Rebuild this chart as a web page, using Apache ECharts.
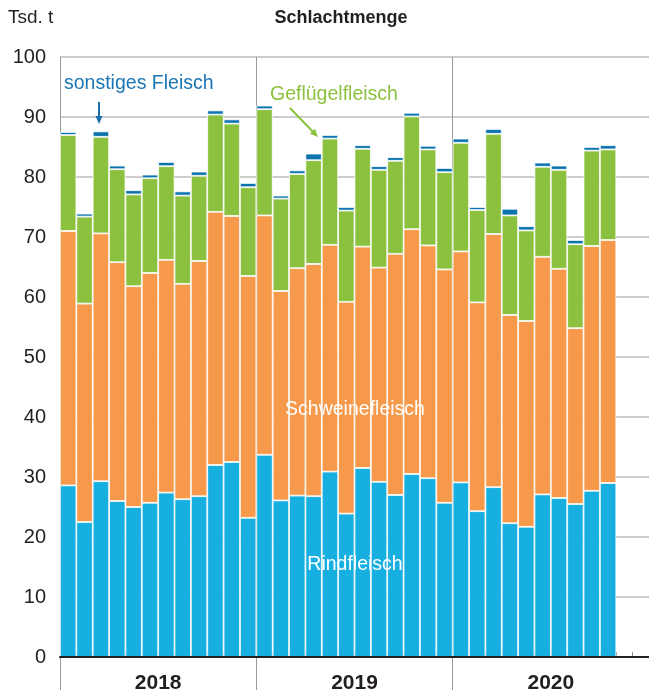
<!DOCTYPE html>
<html>
<head>
<meta charset="utf-8">
<title>Schlachtmenge</title>
<script src="https://cdn.jsdelivr.net/npm/echarts@6/dist/echarts.min.js"></script>
<style>
  html, body { margin: 0; padding: 0; background: #fff; }
  #chart { width: 649px; height: 696px; }
</style>
</head>
<body>
<div id="chart"></div>
<script>
// Monate Jan 2018 bis Okt 2020
var years = ['2018', '2019', '2020'];
var months = [];
for (var y = 0; y < years.length; y++) {
  for (var m = 1; m <= 12; m++) {
    months.push(years[y] + '-' + (m < 10 ? '0' + m : m));
  }
}

// Tsd. t
var rind = [28.6, 22.5, 29.3, 26.0, 25.0, 25.7, 27.4, 26.3, 26.8, 32.0, 32.5, 23.2,
            33.7, 26.1, 26.9, 26.8, 30.9, 23.9, 31.5, 29.2, 27.0, 30.5, 29.8, 25.7,
            29.1, 24.3, 28.3, 22.3, 21.7, 27.1, 26.5, 25.5, 27.7, 29.0];
var schwein = [42.4, 36.4, 41.3, 39.8, 36.8, 38.3, 38.8, 35.9, 39.2, 42.2, 41.0, 40.3,
               39.9, 34.9, 37.9, 38.7, 37.8, 35.3, 36.9, 35.7, 40.2, 40.8, 38.8, 38.9,
               38.5, 34.8, 42.2, 34.7, 34.3, 39.6, 38.2, 29.3, 40.8, 40.5];
var gefluegel = [16.0, 14.5, 16.1, 15.5, 15.3, 15.8, 15.6, 14.7, 14.2, 16.2, 15.4, 14.8,
                 17.7, 15.4, 15.7, 17.3, 17.7, 15.2, 16.3, 16.3, 15.5, 18.8, 16.0, 16.2,
                 18.1, 15.4, 16.7, 16.6, 15.1, 15.0, 16.5, 14.0, 15.9, 15.1];
var sonstiges = [0.5, 0.5, 0.9, 0.6, 0.7, 0.6, 0.7, 0.7, 0.7, 0.7, 0.7, 0.7,
                 0.6, 0.5, 0.6, 1.1, 0.6, 0.6, 0.6, 0.6, 0.6, 0.6, 0.6, 0.7,
                 0.7, 0.5, 0.8, 1.1, 0.7, 0.7, 0.7, 0.7, 0.6, 0.7];

var yTicks = [0, 100, 10]; // min, max, interval

var FONT = 'Liberation Sans';

var chart = echarts.init(document.getElementById('chart'));

function barSeries(name, data, color) {
  return {
    name: name,
    type: 'bar',
    stack: 'fleisch',
    xAxisIndex: 0,
    barCategoryGap: 0,
    itemStyle: {
      color: color,
      borderColor: '#ffffff',
      borderWidth: 0.8
    },
    data: data
  };
}

// Pfeil: Linie + Spitze
function arrow(x1, y1, x2, y2, color) {
  var a = Math.atan2(y2 - y1, x2 - x1);
  var len = 8, w = 3.5;
  var bx = x2 - len * Math.cos(a), by = y2 - len * Math.sin(a);
  return [
    { type: 'line', z: 20, shape: { x1: x1, y1: y1, x2: bx, y2: by },
      style: { stroke: color, lineWidth: 2 } },
    { type: 'polygon', z: 20, shape: { points: [
        [x2, y2],
        [bx + w * Math.sin(a), by - w * Math.cos(a)],
        [bx - w * Math.sin(a), by + w * Math.cos(a)]
      ] }, style: { fill: color } }
  ];
}

function label(text, x, y, color, size, align) {
  return {
    type: 'text', z: 20,
    style: {
      text: text, x: x, y: y, fill: color,
      font: size + 'px "Liberation Sans"',
      textAlign: align || 'left', textVerticalAlign: 'middle'
    }
  };
}

var option = {
  backgroundColor: '#ffffff',
  animation: false,
  textStyle: { fontFamily: FONT },
  grid: { left: 60, right: -4, top: 57, bottom: 39 },
  xAxis: [
    {
      type: 'category',
      data: months,
      z: 0,
      axisLine: { show: false },
      axisTick: { show: true, inside: true, length: 5, interval: 0, lineStyle: { color: '#8c8c8c', width: 1 } },
      axisLabel: { show: false },
      splitLine: { show: false }
    },
    {
      type: 'category',
      data: years,
      position: 'bottom',
      z: 0,
      axisLine: { show: false },
      axisTick: { show: true, length: 33, interval: 0, lineStyle: { color: '#9a9a9a', width: 1 } },
      axisLabel: { show: true, margin: 16, color: '#231f20', fontSize: 21, fontWeight: 'bold', fontFamily: FONT },
      splitLine: { show: true, interval: 0, lineStyle: { color: '#9a9a9a', width: 1 } }
    },
    {
      type: 'category',
      data: years,
      position: 'bottom',
      z: 10,
      axisLine: { show: true, lineStyle: { color: '#231f20', width: 2 } },
      axisTick: { show: false },
      axisLabel: { show: false },
      splitLine: { show: false }
    }
  ],
  yAxis: {
    type: 'value',
    min: yTicks[0],
    max: yTicks[1],
    interval: yTicks[2],
    axisLine: { show: false },
    axisTick: { show: false },
    axisLabel: { color: '#231f20', fontSize: 20, margin: 14, fontFamily: FONT },
    splitLine: { lineStyle: { color: '#bdbdbd', width: 1.5 } }
  },
  series: [
    barSeries('Rindfleisch', rind, '#16afe0'),
    barSeries('Schweinefleisch', schwein, '#f6994a'),
    barSeries('Geflügelfleisch', gefluegel, '#8cc13f'),
    barSeries('sonstiges Fleisch', sonstiges, '#0b73ad')
  ],
  graphic: [
    label('Tsd. t', 8, 18, '#231f20', 19),
    {
      type: 'text', z: 20,
      style: {
        text: 'Schlachtmenge', x: 341, y: 18, fill: '#231f20',
        font: 'bold 18px "Liberation Sans"', textAlign: 'center', textVerticalAlign: 'middle'
      }
    },
    label('sonstiges Fleisch', 64, 84, '#1a76b3', 19.5),
    label('Geflügelfleisch', 270, 95, '#8cc13f', 19.5),
    label('Schweinefleisch', 355, 410, '#ffffff', 19.5, 'center'),
    label('Rindfleisch', 355, 565, '#ffffff', 19.5, 'center')
  ].concat(arrow(99, 102, 99, 124, '#1a6fa8'), arrow(290, 108, 318, 137, '#8cc13f'))
};

chart.setOption(option);
</script>
</body>
</html>
